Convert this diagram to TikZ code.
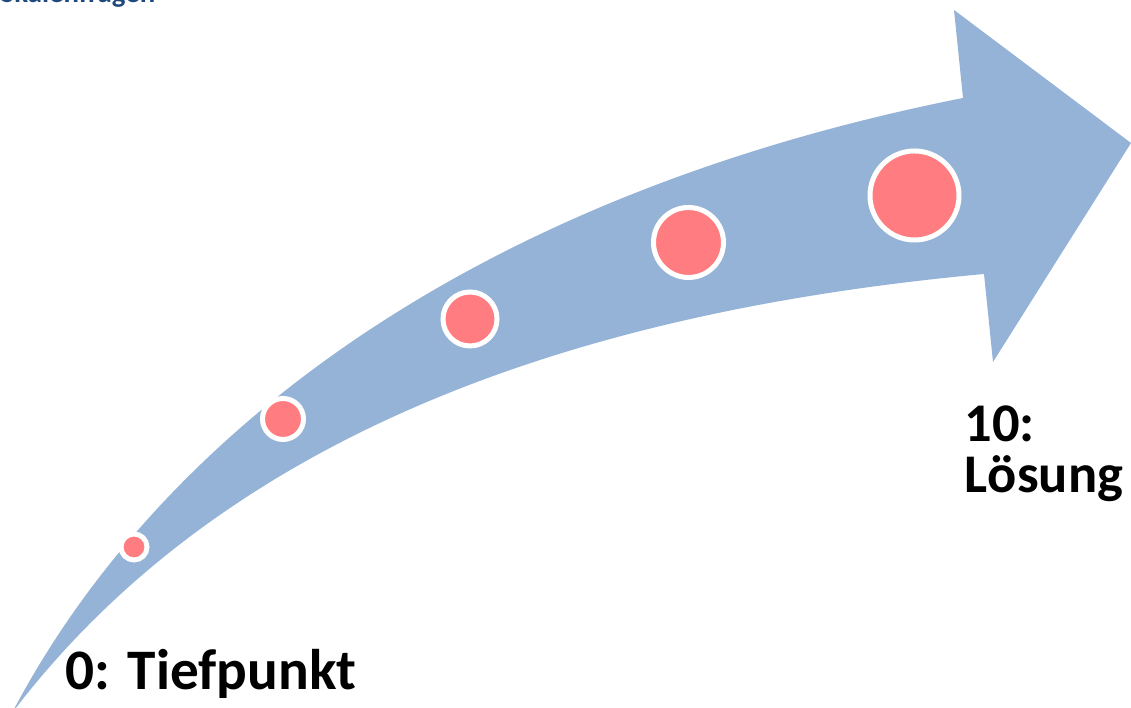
\documentclass[tikz,border=0pt]{standalone}
\usepackage{fontspec}
\setmainfont{Carlito}
\usetikzlibrary{positioning}
\definecolor{bandblue}{HTML}{95B3D7}
\definecolor{dotpink}{HTML}{FF7C80}
\definecolor{headblue}{HTML}{1F497D}
\tikzset{
  scaledot/.style={circle, fill=dotpink, draw=white, line width=1.42pt, inner sep=0pt},
  scalelabel/.style={font=\fontsize{15.5}{14.7}\selectfont\bfseries, text=black,
                     inner sep=0pt, align=left, anchor=base west}}

\begin{document}
\begin{tikzpicture}
  \useasboundingbox (0,0) rectangle (11.31,7.08);
  % curved band with head
  \fill[bandblue] (0.12,-0.05) .. controls (1.50,2.58) and (4.50,5.08) .. (9.63,6.10)
    -- (9.54,6.98) -- (11.31,5.65) -- (9.93,3.46) -- (9.84,4.34)
    .. controls (6.50,4.03) and (2.50,3.08) .. (0.12,-0.05) -- cycle;
  % steps on the scale
  \node[scaledot, minimum size=0.26cm] (step0) at (1.34,1.61) {};
  \node[scaledot, minimum size=0.41cm] (step1) at (2.83,2.89) {};
  \node[scaledot, minimum size=0.54cm] (step2) at (4.70,3.89) {};
  \node[scaledot, minimum size=0.70cm] (step3) at (6.885,4.655) {};
  \node[scaledot, minimum size=0.89cm] (step4) at (9.145,5.125) {};
  % labels
  \node[scalelabel, font=\fontsize{16.3}{16}\selectfont\bfseries] (low) at (0.65,0.18) {0: Tiefpunkt};
  \node[scalelabel] (high) at (9.64,2.15) {10:\\Lösung};
  \node[anchor=base west, inner sep=0pt, text=headblue,
        font=\fontsize{8.2}{10}\selectfont\bfseries] (title) at (0,7.05) {Skalenfragen};
\end{tikzpicture}
\end{document}
